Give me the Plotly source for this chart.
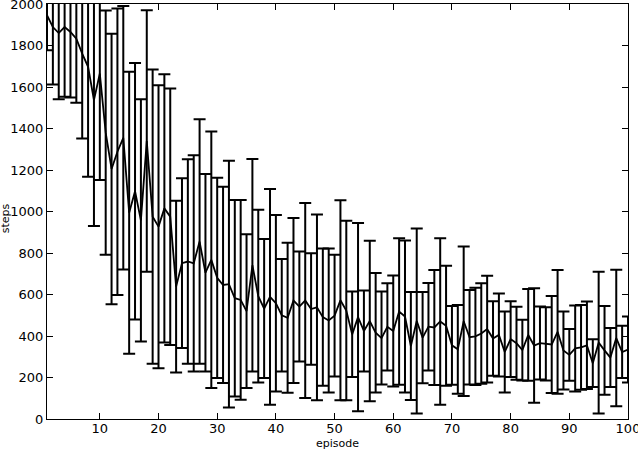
import plotly.graph_objects as go

EPISODES = list(range(1, 101))

MEAN_STEPS = [
    1946, 1889, 1860, 1889, 1865, 1833, 1761, 1697, 1537, 1665,
    1380, 1205, 1288, 1355, 994, 1098, 957, 1340, 975, 927,
    1015, 975, 638, 751, 759, 750, 855, 705, 767, 680,
    646, 650, 582, 574, 520, 741, 592, 532, 589, 558,
    500, 488, 571, 542, 571, 530, 538, 491, 475, 498,
    572, 523, 408, 491, 424, 472, 416, 390, 444, 424,
    518, 494, 352, 472, 392, 445, 441, 470, 449, 355,
    336, 471, 394, 398, 412, 433, 388, 405, 323, 385,
    365, 332, 405, 354, 366, 362, 359, 420, 330, 309,
    340, 345, 355, 269, 368, 331, 296, 390, 323, 335,
]

STD_STEPS = [
    169, 277, 319, 336, 315, 309, 409, 529, 607, 513,
    589, 652, 690, 635, 680, 618, 584, 630, 709, 682,
    646, 618, 414, 409, 493, 521, 589, 476, 618, 483,
    473, 595, 473, 481, 370, 512, 416, 335, 520, 425,
    271, 362, 398, 265, 470, 269, 448, 331, 347, 293,
    482, 433, 206, 454, 195, 387, 288, 224, 210, 267,
    353, 366, 260, 446, 220, 211, 277, 401, 289, 190,
    214, 360, 228, 234, 242, 257, 180, 200, 195, 183,
    176, 146, 221, 276, 176, 176, 234, 298, 188, 125,
    207, 204, 211, 115, 342, 214, 142, 329, 126, 159,
]

X_TICKS = [10, 20, 30, 40, 50, 60, 70, 80, 90, 100]
Y_TICKS = [0, 200, 400, 600, 800, 1000, 1200, 1400, 1600, 1800, 2000]

TICK_FONT = {"family": "DejaVu Sans", "size": 13, "color": "black"}
TITLE_FONT = {"family": "DejaVu Sans", "size": 11, "color": "black"}

figure = go.Figure()
figure.add_trace(
    go.Scatter(
        x=EPISODES,
        y=MEAN_STEPS,
        mode="lines",
        line={"color": "black", "width": 1.8},
        error_y={
            "type": "data",
            "array": STD_STEPS,
            "visible": True,
            "color": "black",
            "thickness": 2,
            "width": 6,
        },
        showlegend=False,
        hoverinfo="skip",
    )
)

axis_style = {
    "showline": True,
    "linecolor": "black",
    "linewidth": 1,
    "mirror": "ticks",
    "ticks": "inside",
    "ticklen": 6,
    "tickwidth": 1,
    "tickcolor": "black",
    "showgrid": False,
    "zeroline": False,
    "tickfont": TICK_FONT,
    "ticklabeloverflow": "allow",
}

figure.update_layout(
    width=638,
    height=450,
    margin={"l": 47, "r": 10, "t": 4, "b": 31, "autoexpand": False},
    paper_bgcolor="white",
    plot_bgcolor="white",
    xaxis={
        **axis_style,
        "range": [1, 100],
        "tickvals": X_TICKS,
        "ticklabelstandoff": -3,
    },
    yaxis={
        **axis_style,
        "range": [0, 2000],
        "tickvals": Y_TICKS,
    },
    annotations=[
        {
            "text": "episode",
            "xref": "paper",
            "yref": "paper",
            "x": 0.5,
            "y": -0.058,
            "xanchor": "center",
            "yanchor": "middle",
            "showarrow": False,
            "font": TITLE_FONT,
        },
        {
            "text": "steps",
            "xref": "paper",
            "yref": "paper",
            "x": -0.072,
            "y": 0.484,
            "xanchor": "center",
            "yanchor": "middle",
            "textangle": -90,
            "showarrow": False,
            "font": TITLE_FONT,
        },
    ],
)

# the browser adds an 8px body margin; drop it so the 638x450 figure fills the window
figure.write_html(
    "out.html",
    config={"displayModeBar": False},
    post_script="document.body.style.margin = '0';",
)
